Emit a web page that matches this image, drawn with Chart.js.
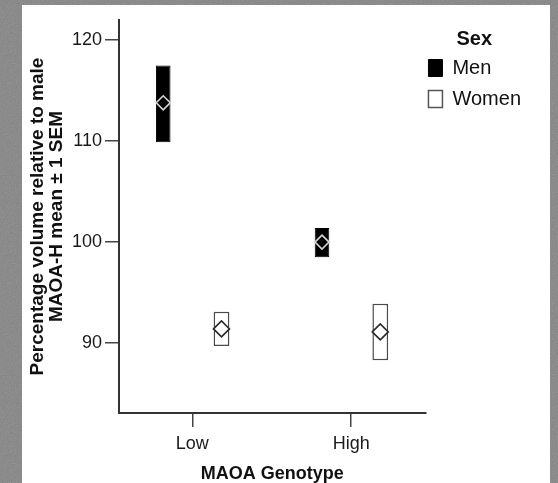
<!DOCTYPE html>
<html>
<head>
<meta charset="utf-8">
<script src="https://cdn.jsdelivr.net/npm/chart.js@4.4.1/dist/chart.umd.min.js"></script>
<style>
  html, body { margin: 0; padding: 0; }
  body {
    width: 558px; height: 483px; overflow: hidden; position: relative;
    background: #828282 url("data:image/svg+xml;utf8,<svg xmlns='http://www.w3.org/2000/svg' width='200' height='200'><filter id='n'><feTurbulence type='fractalNoise' baseFrequency='0.9' numOctaves='2'/><feColorMatrix type='saturate' values='0'/></filter><rect width='100%' height='100%' filter='url(%23n)' opacity='0.3'/></svg>");
  }
  #panel { position: absolute; left: 22px; top: 5px; width: 528px; height: 478px; background: #fff; }
  #wrap { position: absolute; left: 0; top: 0; width: 558px; height: 483px; }
</style>
</head>
<body>
<div id="panel"></div>
<div id="wrap"><canvas id="maoaChart"></canvas></div>
<script>
// values
const genotypes = ['Low', 'High'];
const menMean = [113.8, 100.0];
const menLower = [109.9, 98.5];
const menUpper = [117.5, 101.4];
const womenMean = [91.4, 91.1];
const womenLower = [89.7, 88.3];
const womenUpper = [93.1, 93.9];
const yTicks = [90, 100, 110, 120];

const fontFamily = '"Liberation Sans", Arial, Helvetica, sans-serif';
const categoryPct = 0.734;
const groupOffset = categoryPct / 4; // centre of each sex within a genotype
const legendShift = 8;

const menBoxes = genotypes.map((g, i) => ({ x: i + 1, y: [menLower[i], menUpper[i]] }));
const womenBoxes = genotypes.map((g, i) => ({ x: i + 1, y: [womenLower[i], womenUpper[i]] }));
const menPoints = menMean.map((v, i) => ({ x: i + 1 - groupOffset, y: v }));
const womenPoints = womenMean.map((v, i) => ({ x: i + 1 + groupOffset, y: v }));

// nudge the legend left so its boxes sit just right of the plot
const legendNudge = {
  id: 'legendNudge',
  afterLayout(chart) {
    chart.legend.left -= legendShift;
    chart.legend.right -= legendShift;
  }
};

const ctx = document.getElementById('maoaChart').getContext('2d');
new Chart(ctx, {
  type: 'bar',
  data: {
    datasets: [
      {
        label: 'Men',
        data: menBoxes,
        backgroundColor: '#000',
        borderColor: '#000',
        borderWidth: 1,
        borderSkipped: false,
        categoryPercentage: categoryPct,
        barPercentage: 0.25,
        order: 2
      },
      {
        label: 'Women',
        data: womenBoxes,
        backgroundColor: '#fff',
        borderColor: '#4a4a4a',
        borderWidth: 1.5,
        borderSkipped: false,
        categoryPercentage: categoryPct,
        barPercentage: 0.27,
        order: 2
      },
      {
        type: 'scatter',
        label: 'Men mean',
        data: menPoints,
        pointStyle: 'rectRot',
        pointRadius: 7,
        backgroundColor: '#000',
        borderColor: '#d4d4d4',
        borderWidth: 1.6,
        order: 1
      },
      {
        type: 'scatter',
        label: 'Women mean',
        data: womenPoints,
        pointStyle: 'rectRot',
        pointRadius: 8,
        backgroundColor: '#fff',
        borderColor: '#2a2a2a',
        borderWidth: 1.6,
        order: 1
      }
    ]
  },
  options: {
    responsive: true,
    maintainAspectRatio: false,
    animation: false,
    layout: { padding: { top: 20, right: 19, bottom: 0, left: 0 } },
    scales: {
      x: {
        type: 'linear',
        offset: false,
        min: 0.538,
        max: 2.468,
        afterBuildTicks: (scale) => { scale.ticks = genotypes.map((g, i) => ({ value: i + 1 })); },
        afterFit: (scale) => { scale.height = 70; },
        grid: { display: true, offset: false, drawOnChartArea: false, drawTicks: true, tickLength: 14, color: '#444', lineWidth: 1.5 },
        border: { display: true, color: '#333', width: 2 },
        ticks: {
          padding: 6,
          color: '#1a1a1a',
          font: { family: fontFamily, size: 18 },
          callback: (value, index) => genotypes[index]
        },
        title: {
          display: true,
          text: 'MAOA Genotype',
          color: '#111',
          font: { family: fontFamily, size: 18, weight: 'bold', lineHeight: 1 },
          padding: { top: 0, bottom: 0 }
        }
      },
      y: {
        min: 83.07,
        max: 122,
        afterBuildTicks: (scale) => { scale.ticks = yTicks.map(v => ({ value: v })); },
        afterFit: (scale) => { scale.width = 119; },
        grid: { display: true, drawOnChartArea: false, drawTicks: true, tickLength: 14, color: '#444', lineWidth: 1.5 },
        border: { display: true, color: '#333', width: 2 },
        ticks: {
          padding: 3,
          color: '#1a1a1a',
          font: { family: fontFamily, size: 18 }
        },
        title: {
          display: true,
          text: ['Percentage volume relative to male', 'MAOA-H mean \u00b1 1 SEM'],
          color: '#111',
          font: { family: fontFamily, size: 19, weight: 'bold', lineHeight: 1 },
          padding: { top: 28, bottom: 0 }
        }
      }
    },
    plugins: {
      tooltip: { enabled: false },
      legend: {
        position: 'right',
        align: 'start',
        title: {
          display: true,
          text: 'Sex',
          color: '#111',
          font: { family: fontFamily, size: 20, weight: 'bold', lineHeight: 1 },
          padding: { top: 9, bottom: -2 }
        },
        labels: {
          boxWidth: 14,
          boxHeight: 17,
          padding: 11,
          color: '#111',
          font: { family: fontFamily, size: 20 },
          generateLabels: () => [
            { text: 'Men', fillStyle: '#000', strokeStyle: '#000', lineWidth: 1, hidden: false, datasetIndex: 0 },
            { text: 'Women', fillStyle: '#fff', strokeStyle: '#555', lineWidth: 1.5, hidden: false, datasetIndex: 1 }
          ]
        }
      }
    }
  },
  plugins: [legendNudge]
});
</script>
</body>
</html>
